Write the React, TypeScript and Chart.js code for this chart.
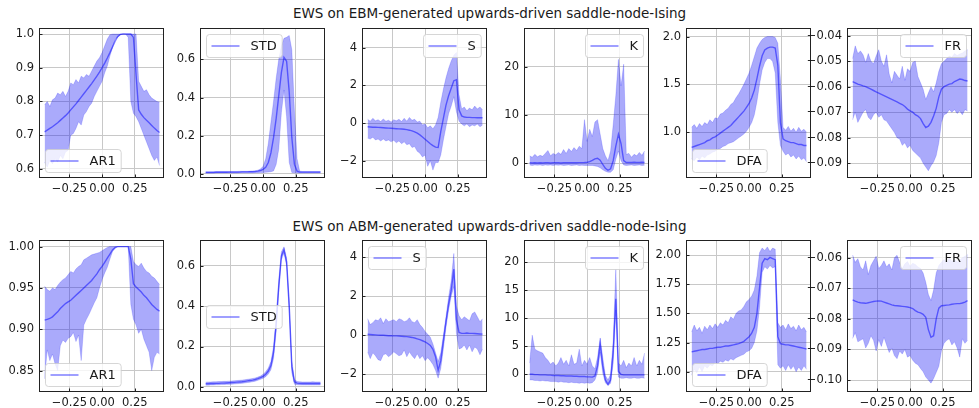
import React, { useEffect, useRef } from "react";
import { Chart, registerables } from "chart.js";
Chart.register(...registerables);

// ---------- data ----------
const xs = [-0.44,-0.42,-0.40,-0.38,-0.36,-0.34,-0.32,-0.30,-0.28,-0.26,-0.24,-0.22,-0.20,-0.18,-0.16,-0.14,-0.12,-0.10,-0.08,-0.06,-0.04,-0.02,0.00,0.02,0.04,0.06,0.08,0.10,0.12,0.14,0.16,0.18,0.20,0.22,0.24,0.26,0.28,0.30,0.32,0.34,0.36,0.38,0.40,0.42,0.44];
const xTicks = [-0.25, 0, 0.25];

const titles = ["EWS on EBM-generated upwards-driven saddle-node-Ising", "EWS on ABM-generated upwards-driven saddle-node-Ising"];

// EBM row
const ebmAr1Mean = [0.710,0.715,0.720,0.725,0.731, 0.737,0.744,0.751,0.758,0.766, 0.775,0.784,0.793,0.803,0.813, 0.823,0.833,0.843,0.853,0.864, 0.875,0.887,0.900,0.914,0.929, 0.945,0.962,0.979,0.993,0.999, 1.000,1.000,1.000,1.000,0.990, 0.880,0.775,0.762,0.752,0.744, 0.737,0.729,0.721,0.714,0.708];
const ebmAr1Upper = [0.790,0.800,0.785,0.805,0.810, 0.825,0.820,0.830,0.815,0.830, 0.855,0.850,0.865,0.855,0.875, 0.870,0.880,0.875,0.890,0.905, 0.920,0.930,0.945,0.965,0.985, 0.998,1.000,1.000,1.000,1.000, 1.000,1.000,1.000,1.000,1.000, 1.000,0.860,0.845,0.830,0.835, 0.820,0.810,0.805,0.800,0.798];
const ebmAr1Lower = [0.620,0.605,0.625,0.615,0.630, 0.620,0.640,0.630,0.650,0.655, 0.700,0.705,0.720,0.740,0.730, 0.760,0.770,0.785,0.795,0.815, 0.830,0.845,0.860,0.885,0.905, 0.935,0.960,0.985,0.990,0.998, 1.000,1.000,0.990,0.800,0.765, 0.755,0.740,0.720,0.700,0.680, 0.660,0.640,0.625,0.635,0.610];

const ebmStdMean = [0.008,0.008,0.008,0.008,0.009, 0.009,0.009,0.009,0.009,0.010, 0.010,0.010,0.010,0.010,0.011, 0.011,0.011,0.012,0.012,0.013, 0.015,0.018,0.024,0.035,0.060, 0.110,0.190,0.290,0.410,0.530, 0.610,0.590,0.430,0.190,0.050, 0.015,0.010,0.010,0.010,0.010, 0.010,0.010,0.010,0.010,0.010];
const ebmStdUpper = [0.012,0.012,0.012,0.012,0.013, 0.013,0.013,0.013,0.013,0.013, 0.013,0.013,0.013,0.014,0.014, 0.014,0.014,0.015,0.016,0.017, 0.020,0.026,0.040,0.080,0.160, 0.270,0.380,0.500,0.600,0.670, 0.710,0.715,0.725,0.650,0.330, 0.080,0.015,0.013,0.013,0.013, 0.013,0.013,0.013,0.013,0.013];
const ebmStdLower = [0.005,0.005,0.005,0.005,0.005, 0.005,0.005,0.005,0.005,0.005, 0.005,0.005,0.005,0.006,0.006, 0.006,0.006,0.006,0.006,0.007, 0.007,0.008,0.008,0.009,0.010, 0.012,0.016,0.050,0.130,0.320, 0.440,0.300,0.060,0.008,0.006, 0.005,0.005,0.005,0.005,0.005, 0.005,0.005,0.005,0.005,0.005];

const ebmSMean = [-0.20,-0.21,-0.22,-0.22,-0.23, -0.24,-0.25,-0.26,-0.27,-0.28, -0.29,-0.30,-0.31,-0.32,-0.33, -0.35,-0.38,-0.42,-0.47,-0.54, -0.63,-0.74,-0.86,-0.98,-1.10, -1.20,-1.28,-1.30,-0.45,0.25, 0.95,1.45,1.85,2.25,2.30, 0.70,0.38,0.32,0.30,0.30, 0.29,0.29,0.28,0.28,0.28];
const ebmSUpper = [0.20,0.10,0.25,0.12,0.18, 0.08,0.22,0.10,0.15,0.05, 0.18,0.12,0.20,0.08,0.25, 0.10,0.30,0.15,0.20,0.05, 0.10,-0.10,-0.05,-0.25,-0.15, -0.30,-0.10,0.30,1.10,1.80, 2.40,2.90,3.30,3.60,3.75, 1.50,0.75,0.85,0.65,0.80, 0.70,0.90,0.75,0.85,0.70];
const ebmSLower = [-0.80,-0.85,-0.75,-0.90,-0.85, -0.95,-0.85,-0.95,-0.90,-1.00, -0.92,-1.05,-0.95,-1.10,-1.00, -1.15,-1.10,-1.30,-1.25,-1.50, -1.60,-1.80,-1.70,-2.30,-2.00, -2.50,-2.10,-2.10,-1.70,-0.90, -0.20,0.50,0.90,1.40,0.60, 0.10,-0.05,-0.15,-0.05,-0.20, -0.10,-0.15,-0.05,-0.20,-0.10];

const ebmKMean = [0.05,0.00,0.05,0.00,0.05, 0.00,0.05,0.05,0.00,0.05, 0.05,0.05,0.00,0.05,0.05, 0.05,0.05,0.05,0.05,0.08, 0.08,0.10,0.15,0.30,0.55, 0.85,1.00,0.60,-0.30,-1.10, -1.50,-1.20,0.50,3.50,6.00, 4.00,0.50,0.10,0.10,0.10, 0.15,0.10,0.10,0.15,0.10];
const ebmKUpper = [1.5,1.2,1.8,1.3,1.6, 1.4,2.0,2.6,1.5,2.0, 1.7,2.2,1.8,2.8,2.0, 3.0,2.4,3.2,2.6,3.5, 3.0,9.0,4.5,7.0,5.5, 8.5,9.0,6.0,3.0,1.5, 0.5,2.5,8.0,14.0,21.5, 16.0,20.5,1.8,2.0,1.2, 1.8,1.5,2.2,1.6,2.5];
const ebmKLower = [-0.4,-0.5,-0.4,-0.45,-0.4, -0.5,-0.4,-0.45,-0.4,-0.5, -0.4,-0.45,-0.4,-0.5,-0.45, -0.4,-0.5,-0.45,-0.4,-0.5, -0.45,-0.5,-0.5,-0.5,-0.5, -0.6,-0.7,-1.0,-1.4,-1.7, -1.9,-1.9,-1.4,0.8,2.5, 0.5,-0.4,-0.5,-0.45,-0.4, -0.5,-0.45,-0.4,-0.5,-0.45];

const ebmDfaMean = [0.84,0.85,0.86,0.87,0.88, 0.89,0.91,0.92,0.94,0.95, 0.97,0.99,1.01,1.03,1.05, 1.07,1.10,1.13,1.16,1.19, 1.22,1.26,1.30,1.36,1.44, 1.56,1.69,1.80,1.86,1.88, 1.89,1.89,1.88,1.70,1.10, 0.93,0.91,0.90,0.89,0.89, 0.88,0.87,0.87,0.86,0.86];
const ebmDfaUpper = [1.05,1.08,1.04,1.09,1.06, 1.10,1.08,1.13,1.10,1.15, 1.14,1.19,1.20,1.23,1.25, 1.29,1.31,1.36,1.40,1.45, 1.50,1.56,1.62,1.70,1.79, 1.88,1.93,1.97,1.99,2.00, 2.00,2.00,1.99,1.93,1.55, 1.05,1.02,1.06,1.01,1.04, 1.00,1.05,1.01,1.03,1.00];
const ebmDfaLower = [0.72,0.70,0.74,0.71,0.75, 0.73,0.76,0.77,0.79,0.80, 0.82,0.83,0.85,0.86,0.88, 0.89,0.90,0.92,0.94,0.96, 0.98,1.01,1.05,1.10,1.18, 1.32,1.50,1.65,1.73,1.77, 1.77,1.74,1.62,1.10,0.86, 0.80,0.76,0.78,0.74,0.76, 0.72,0.75,0.71,0.73,0.69];

const ebmFrMean = [-0.058,-0.0585,-0.059,-0.0593,-0.0597, -0.060,-0.0605,-0.061,-0.0615,-0.062, -0.0625,-0.063,-0.0635,-0.064,-0.0645, -0.065,-0.0655,-0.066,-0.0665,-0.067, -0.0678,-0.0688,-0.0695,-0.070,-0.071, -0.0715,-0.0725,-0.0745,-0.076,-0.0755, -0.074,-0.0715,-0.0685,-0.064,-0.061, -0.060,-0.0595,-0.059,-0.0588,-0.058, -0.0575,-0.057,-0.0572,-0.0576,-0.0578];
const ebmFrUpper = [-0.049,-0.044,-0.047,-0.046,-0.0475, -0.0505,-0.047,-0.050,-0.051,-0.048, -0.0455,-0.050,-0.052,-0.0475,-0.055, -0.0585,-0.054,-0.0555,-0.057,-0.052, -0.0575,-0.053,-0.054,-0.0505,-0.050, -0.056,-0.0585,-0.061,-0.065,-0.0625, -0.060,-0.062,-0.0585,-0.054,-0.051, -0.050,-0.049,-0.048,-0.0485,-0.047, -0.0478,-0.0472,-0.0468,-0.046,-0.0455];
const ebmFrLower = [-0.073,-0.070,-0.074,-0.072,-0.070, -0.069,-0.072,-0.073,-0.071,-0.070, -0.072,-0.071,-0.073,-0.0735,-0.075, -0.0765,-0.078,-0.080,-0.0805,-0.083, -0.082,-0.084,-0.083,-0.085,-0.086, -0.087,-0.088,-0.090,-0.0915,-0.093, -0.091,-0.0895,-0.087,-0.082,-0.074, -0.071,-0.0705,-0.069,-0.070,-0.069, -0.0705,-0.0695,-0.071,-0.069,-0.0695];

// ABM row
const abmAr1Mean = [0.911,0.912,0.913,0.915,0.918, 0.921,0.925,0.928,0.931,0.933, 0.935,0.938,0.941,0.944,0.947, 0.950,0.953,0.956,0.959,0.963, 0.967,0.972,0.976,0.981,0.986, 0.991,0.996,0.999,1.000,1.000, 1.000,1.000,1.000,0.985,0.955, 0.951,0.948,0.945,0.941,0.938, 0.934,0.930,0.927,0.924,0.922];
const abmAr1Upper = [0.952,0.948,0.946,0.950,0.948, 0.953,0.957,0.960,0.962,0.966, 0.970,0.968,0.973,0.976,0.978, 0.984,0.986,0.988,0.990,0.991, 0.992,0.993,0.995,0.997,0.999, 1.000,1.000,1.000,1.000,1.000, 1.000,1.000,1.000,1.000,0.982, 0.978,0.976,0.980,0.974,0.970, 0.968,0.964,0.962,0.958,0.954];
const abmAr1Lower = [0.840,0.875,0.862,0.870,0.858, 0.850,0.880,0.887,0.884,0.889, 0.891,0.896,0.885,0.893,0.862, 0.905,0.912,0.918,0.925,0.932, 0.938,0.950,0.960,0.968,0.975, 0.985,0.994,0.998,1.000,1.000, 1.000,1.000,1.000,0.930,0.912, 0.905,0.895,0.900,0.888,0.880, 0.872,0.850,0.866,0.872,0.870];

const abmStdMean = [0.015,0.015,0.016,0.016,0.017, 0.017,0.018,0.018,0.019,0.020, 0.021,0.022,0.023,0.024,0.025, 0.027,0.029,0.031,0.033,0.036, 0.040,0.045,0.052,0.062,0.078, 0.105,0.170,0.310,0.500,0.650, 0.680,0.620,0.400,0.100,0.025, 0.018,0.017,0.016,0.016,0.016, 0.016,0.016,0.016,0.016,0.016];
const abmStdUpper = [0.023,0.024,0.024,0.025,0.025, 0.026,0.026,0.027,0.027,0.028, 0.029,0.030,0.031,0.032,0.033, 0.035,0.037,0.039,0.041,0.044, 0.048,0.053,0.062,0.074,0.093, 0.125,0.200,0.345,0.530,0.670, 0.695,0.640,0.435,0.130,0.037, 0.026,0.025,0.024,0.024,0.024, 0.024,0.025,0.024,0.024,0.024];
const abmStdLower = [0.008,0.008,0.009,0.009,0.010, 0.010,0.011,0.011,0.012,0.012, 0.013,0.014,0.015,0.016,0.017, 0.019,0.021,0.023,0.025,0.028, 0.032,0.037,0.042,0.050,0.063, 0.085,0.140,0.275,0.470,0.630, 0.665,0.600,0.365,0.070,0.013, 0.010,0.009,0.009,0.009,0.009, 0.009,0.009,0.009,0.009,0.009];

const abmSMean = [0.05,0.04,0.03,0.02,0.01, 0.00,0.00,-0.01,-0.02,-0.02, -0.03,-0.03,-0.04,-0.05,-0.06, -0.07,-0.09,-0.11,-0.14,-0.18, -0.22,-0.28,-0.34,-0.42,-0.52, -0.72,-1.10,-1.80,-1.30,-0.30, 0.70,1.60,2.30,3.40,0.80, 0.15,0.10,0.10,0.12,0.10, 0.10,0.09,0.08,0.07,0.06];
const abmSUpper = [0.85,0.55,0.65,0.80,0.75, 0.90,0.60,0.85,0.70,0.75, 0.80,0.70,0.85,0.80,0.70, 0.75,0.90,0.70,0.65,0.80, 0.55,0.40,0.20,0.05,-0.10, -0.45,-0.90,-1.35,-0.90,0.00, 0.95,1.95,2.80,4.20,1.50, 1.00,0.80,0.95,0.85,0.75, 1.10,1.20,0.95,0.70,0.85];
const abmSLower = [-0.85,-1.20,-0.90,-1.05,-1.25, -1.30,-1.00,-0.95,-1.10,-1.00, -0.85,-0.95,-1.05,-1.00,-0.75, -1.10,-0.85,-1.05,-1.20,-0.95, -1.20,-1.05,-1.30,-1.15,-1.30, -1.50,-1.80,-2.20,-1.70,-0.70, 0.40,1.30,2.00,2.50,0.10, -0.70,-0.65,-0.50,-0.75,-0.50, -0.85,-0.60,-0.70,-1.00,-0.70];

const abmKMean = [0.0,0.0,-0.05,-0.05,-0.1, -0.1,-0.1,-0.15,-0.15,-0.2, -0.2,-0.2,-0.25,-0.25,-0.3, -0.3,-0.3,-0.35,-0.35,-0.4, -0.4,-0.4,-0.45,-0.45,-0.5, -0.3,1.5,5.5,1.5,-1.0, -1.8,-1.0,4.0,13.5,0.5, 0.0,-0.1,-0.1,-0.1,-0.1, -0.1,-0.1,-0.1,-0.1,-0.1];
const abmKUpper = [2.0,7.0,4.5,4.2,4.0, 3.8,3.0,2.5,1.8,2.2, 1.5,2.0,3.0,1.8,2.5, 1.5,3.5,1.8,2.0,4.5, 1.5,2.5,1.8,3.0,1.5, 1.0,3.0,6.5,3.0,-0.2, -1.0,0.0,6.0,18.8,2.0, 1.5,2.5,1.2,2.0,1.5, 3.0,1.5,2.5,1.8,3.8];
const abmKLower = [-1.0,-1.0,-1.1,-1.1,-1.2, -1.1,-1.2,-1.2,-1.3,-1.3, -1.3,-1.4,-1.3,-1.4,-1.4, -1.5,-1.4,-1.5,-1.5,-1.6, -1.5,-1.6,-1.5,-1.6,-1.5, -1.0,0.3,4.0,0.2,-1.5, -2.0,-1.6,2.0,11.5,-0.5, -0.7,-0.7,-0.6,-0.7,-0.7, -0.6,-0.7,-0.7,-0.6,-0.7];

const abmDfaMean = [1.17,1.175,1.18,1.185,1.19, 1.19,1.195,1.20,1.20,1.205, 1.21,1.21,1.215,1.22,1.22, 1.225,1.23,1.235,1.24,1.25, 1.26,1.28,1.30,1.33,1.38, 1.50,1.72,1.93,1.97,1.96, 1.98,1.97,1.96,1.30,1.24, 1.235,1.23,1.23,1.225,1.22, 1.215,1.21,1.205,1.20,1.195];
const abmDfaUpper = [1.34,1.40,1.35,1.38,1.33, 1.39,1.36,1.40,1.37,1.41, 1.38,1.42,1.40,1.44,1.42, 1.47,1.45,1.50,1.52,1.53, 1.56,1.60,1.62,1.65,1.70, 1.82,2.02,2.06,2.04,2.07, 2.03,2.06,2.05,1.42,1.38, 1.40,1.36,1.41,1.37,1.39, 1.35,1.40,1.36,1.38,1.34];
const abmDfaLower = [0.97,1.02,0.99,1.04,1.00, 1.05,1.03,1.06,1.05,1.08, 1.07,1.09,1.08,1.10,1.09, 1.11,1.10,1.12,1.13,1.14, 1.15,1.17,1.18,1.20,1.25, 1.35,1.55,1.85,1.90,1.88, 1.91,1.89,1.90,1.06,1.03, 1.05,1.01,1.06,1.02,1.05, 1.00,1.04,1.01,1.05,1.02];

const abmFrMean = [-0.0738,-0.0742,-0.0745,-0.0747,-0.0748, -0.0749,-0.0747,-0.0745,-0.0743,-0.0742, -0.0741,-0.0742,-0.0745,-0.0748,-0.0751, -0.0754,-0.0756,-0.0757,-0.0758,-0.0759, -0.0760,-0.0761,-0.0763,-0.0766,-0.0773, -0.0778,-0.0780,-0.0785,-0.0795,-0.0835, -0.0860,-0.0855,-0.0800,-0.0765,-0.0757, -0.0756,-0.0755,-0.0754,-0.0752,-0.0751, -0.0750,-0.0750,-0.0748,-0.0745,-0.0740];
const abmFrUpper = [-0.0591,-0.0615,-0.0603,-0.0630,-0.0640, -0.0610,-0.0655,-0.0625,-0.0610,-0.0595, -0.0635,-0.0625,-0.0610,-0.0630,-0.0620, -0.0640,-0.0600,-0.0592,-0.0615,-0.0635, -0.0620,-0.0612,-0.0628,-0.0618,-0.0622, -0.0630,-0.0635,-0.0650,-0.0680,-0.0720, -0.0740,-0.0705,-0.0650,-0.0625,-0.0615, -0.0605,-0.0618,-0.0600,-0.0612,-0.0605, -0.0615,-0.0608,-0.0600,-0.0595,-0.0590];
const abmFrLower = [-0.0864,-0.0845,-0.0875,-0.0870,-0.0865, -0.0895,-0.0880,-0.0855,-0.0870,-0.0905, -0.0868,-0.0890,-0.0860,-0.0885,-0.0910, -0.0895,-0.0920,-0.0930,-0.0905,-0.0915, -0.0900,-0.0925,-0.0920,-0.0935,-0.0945, -0.0950,-0.0962,-0.0973,-0.0990,-0.1000, -0.1010,-0.0995,-0.0975,-0.0955,-0.0905, -0.0880,-0.0870,-0.0865,-0.0885,-0.0875, -0.0895,-0.0925,-0.0865,-0.0880,-0.0870];

// y tick labels
const ebmAr1Ticks = [0.6, 0.7, 0.8, 0.9, 1.0];
const ebmStdTicks = [0.0, 0.2, 0.4, 0.6];
const ebmSTicks = [-2, 0, 2, 4];
const ebmKTicks = [0, 10, 20];
const ebmDfaTicks = [1.0, 1.5, 2.0];
const ebmFrTicks = [-0.09, -0.08, -0.07, -0.06, -0.05, -0.04];
const abmAr1Ticks = [0.85, 0.90, 0.95, 1.00];
const abmStdTicks = [0.0, 0.2, 0.4, 0.6];
const abmSTicks = [-2, 0, 2, 4];
const abmKTicks = [0, 5, 10, 15, 20];
const abmDfaTicks = [1.0, 1.25, 1.5, 1.75, 2.0];
const abmFrTicks = [-0.10, -0.09, -0.08, -0.07, -0.06];

// ---------- layout / style ----------
const FONT = "'DejaVu Sans', sans-serif";
const TEXT = "#1a1a1a";
const LINE = "rgba(0,0,255,0.5)";
const BAND = "rgba(20,20,245,0.36)";
const EDGE = "rgba(0,0,255,0.22)";
const PAD_L = 46, PAD_T = 10, PAD_R = 8, PAD_B = 22;
const BOX_W = 125;
const COL_LEFTS = [39, 200, 362, 524, 686, 847];
const ROW_TOPS = [28, 240];
const ROW_H = [150, 152];
const X_MIN = -0.483, X_MAX = 0.474;

type PanelDef = {
  label: string; mean: number[]; upper: number[]; lower: number[];
  yMin: number; yMax: number; ticks: number[]; dec: number; loc: string;
};

const rows: PanelDef[][] = [
  [
    { label: "AR1", mean: ebmAr1Mean, upper: ebmAr1Upper, lower: ebmAr1Lower, yMin: 0.573, yMax: 1.018, ticks: ebmAr1Ticks, dec: 1, loc: "lower left" },
    { label: "STD", mean: ebmStdMean, upper: ebmStdUpper, lower: ebmStdLower, yMin: -0.021, yMax: 0.764, ticks: ebmStdTicks, dec: 1, loc: "upper left" },
    { label: "S", mean: ebmSMean, upper: ebmSUpper, lower: ebmSLower, yMin: -2.92, yMax: 5.05, ticks: ebmSTicks, dec: 0, loc: "upper right" },
    { label: "K", mean: ebmKMean, upper: ebmKUpper, lower: ebmKLower, yMin: -3.1, yMax: 28.0, ticks: ebmKTicks, dec: 0, loc: "upper right" },
    { label: "DFA", mean: ebmDfaMean, upper: ebmDfaUpper, lower: ebmDfaLower, yMin: 0.52, yMax: 2.09, ticks: ebmDfaTicks, dec: 1, loc: "lower left" },
    { label: "FR", mean: ebmFrMean, upper: ebmFrUpper, lower: ebmFrLower, yMin: -0.0958, yMax: -0.037, ticks: ebmFrTicks, dec: 2, loc: "upper right" },
  ],
  [
    { label: "AR1", mean: abmAr1Mean, upper: abmAr1Upper, lower: abmAr1Lower, yMin: 0.824, yMax: 1.008, ticks: abmAr1Ticks, dec: 2, loc: "lower left" },
    { label: "STD", mean: abmStdMean, upper: abmStdUpper, lower: abmStdLower, yMin: -0.026, yMax: 0.729, ticks: abmStdTicks, dec: 1, loc: "center left" },
    { label: "S", mean: abmSMean, upper: abmSUpper, lower: abmSLower, yMin: -2.91, yMax: 4.89, ticks: abmSTicks, dec: 0, loc: "upper left" },
    { label: "K", mean: abmKMean, upper: abmKUpper, lower: abmKLower, yMin: -3.16, yMax: 24.0, ticks: abmKTicks, dec: 0, loc: "upper right" },
    { label: "DFA", mean: abmDfaMean, upper: abmDfaUpper, lower: abmDfaLower, yMin: 0.826, yMax: 2.129, ticks: abmDfaTicks, dec: 2, loc: "lower left" },
    { label: "FR", mean: abmFrMean, upper: abmFrUpper, lower: abmFrLower, yMin: -0.1039, yMax: -0.0542, ticks: abmFrTicks, dec: 2, loc: "upper right" },
  ],
];

function fmt(v: number, dec: number) {
  const s = Math.abs(v).toFixed(dec);
  return (v < -1e-12 ? "\u2212" : "") + s;
}

const framePlugin = {
  id: "frame",
  afterDatasetsDraw(chart: any) {
    const { ctx, chartArea: a, scales } = chart;
    ctx.save();
    ctx.strokeStyle = "#222";
    ctx.lineWidth = 1;
    ctx.strokeRect(a.left + 0.5, a.top + 0.5, a.right - a.left - 1, a.bottom - a.top - 1);
    ctx.beginPath();
    for (const t of scales.x.ticks) {
      const px = Math.round(scales.x.getPixelForValue(t.value)) + 0.5;
      ctx.moveTo(px, a.bottom); ctx.lineTo(px, a.bottom - 3.5);
    }
    for (const t of scales.y.ticks) {
      const py = Math.round(scales.y.getPixelForValue(t.value)) + 0.5;
      ctx.moveTo(a.left, py); ctx.lineTo(a.left + 3.5, py);
    }
    ctx.stroke();
    ctx.restore();
  },
};

function rr(ctx: CanvasRenderingContext2D, x: number, y: number, w: number, h: number, r: number) {
  ctx.beginPath();
  ctx.moveTo(x + r, y);
  ctx.lineTo(x + w - r, y);
  ctx.arcTo(x + w, y, x + w, y + r, r);
  ctx.lineTo(x + w, y + h - r);
  ctx.arcTo(x + w, y + h, x + w - r, y + h, r);
  ctx.lineTo(x + r, y + h);
  ctx.arcTo(x, y + h, x, y + h - r, r);
  ctx.lineTo(x, y + r);
  ctx.arcTo(x, y, x + r, y, r);
  ctx.closePath();
}

const legendPlugin = {
  id: "boxLegend",
  afterDraw(chart: any, _args: any, opts: any) {
    const { ctx, chartArea: a } = chart;
    ctx.save();
    ctx.font = `13px ${FONT}`;
    const tw = ctx.measureText(opts.label).width;
    const w = 5 + 28 + 11 + tw + 5.5, h = 23;
    let x = opts.loc.includes("left") ? a.left + 6 : a.right - 6 - w;
    let y = opts.loc.startsWith("upper") ? a.top + 6 : opts.loc.startsWith("lower") ? a.bottom - 6 - h : (a.top + a.bottom) / 2 - h / 2;
    x = Math.round(x) + 0.5; y = Math.round(y) + 0.5;
    rr(ctx, x, y, w, h, 3);
    ctx.fillStyle = "rgba(255,255,255,0.8)";
    ctx.fill();
    ctx.strokeStyle = "rgba(204,204,204,0.8)";
    ctx.lineWidth = 1;
    ctx.stroke();
    const cy = y + h / 2;
    ctx.beginPath();
    ctx.moveTo(x + 5, cy); ctx.lineTo(x + 33, cy);
    ctx.strokeStyle = LINE; ctx.lineWidth = 1.5; ctx.stroke();
    ctx.fillStyle = TEXT; ctx.textBaseline = "middle"; ctx.textAlign = "left";
    ctx.fillText(opts.label, x + 44, cy + 0.5);
    ctx.restore();
  },
};

function Panel({ def, left, top, height }: { def: PanelDef; left: number; top: number; height: number }) {
  const ref = useRef<HTMLCanvasElement>(null);
  const cw = PAD_L + BOX_W + PAD_R;
  const ch = PAD_T + height + PAD_B;
  useEffect(() => {
    const pts = (arr: number[]) => xs.map((x, i) => ({ x, y: arr[i] }));
    const font = { family: FONT, size: 11.5 };
    const chart = new Chart(ref.current as HTMLCanvasElement, {
      type: "line",
      data: {
        datasets: [
          { data: pts(def.mean), borderColor: LINE, borderWidth: 1.4, pointRadius: 0, fill: false, tension: 0 },
          { data: pts(def.upper), borderColor: EDGE, borderWidth: 0.8, pointRadius: 0, fill: "+1", backgroundColor: BAND, tension: 0 },
          { data: pts(def.lower), borderColor: EDGE, borderWidth: 0.8, pointRadius: 0, fill: false, tension: 0 },
        ],
      } as any,
      options: {
        responsive: false,
        animation: false,
        devicePixelRatio: 1,
        layout: { padding: { left: 0, top: PAD_T, right: PAD_R, bottom: 0 } },
        scales: {
          x: {
            type: "linear", min: X_MIN, max: X_MAX,
            afterBuildTicks: (s: any) => { s.ticks = xTicks.map((v) => ({ value: v })); },
            afterFit: (s: any) => { s.height = PAD_B; s.paddingLeft = 0; s.paddingRight = 0; },
            grid: { color: "#c8c8c8", lineWidth: 1, drawTicks: false },
            border: { display: false },
            ticks: { callback: (v: any) => fmt(Number(v), 2), font, color: TEXT, padding: 4, maxRotation: 0, autoSkip: false },
          },
          y: {
            type: "linear", min: def.yMin, max: def.yMax,
            afterBuildTicks: (s: any) => { s.ticks = def.ticks.map((v) => ({ value: v })); },
            afterFit: (s: any) => { s.width = PAD_L; s.paddingTop = 0; s.paddingBottom = 0; },
            grid: { color: "#c8c8c8", lineWidth: 1, drawTicks: false },
            border: { display: false },
            ticks: { callback: (v: any) => fmt(Number(v), def.dec), font, color: TEXT, padding: 5, autoSkip: false },
          },
        },
        plugins: {
          legend: { display: false },
          tooltip: { enabled: false },
          boxLegend: { label: def.label, loc: def.loc },
        } as any,
      },
      plugins: [framePlugin, legendPlugin],
    });
    return () => chart.destroy();
  }, [def]);
  return (
    <canvas
      ref={ref}
      width={cw}
      height={ch}
      style={{ position: "absolute", left: left - PAD_L, top: top - PAD_T, width: cw, height: ch }}
    />
  );
}

export default function App() {
  const titleTops = [5, 218];
  return (
    <div style={{ position: "absolute", left: 0, top: 0, width: 979, height: 408, background: "#fff", overflow: "hidden" }}>
      {titles.map((t, r) => (
        <div
          key={t}
          style={{
            position: "absolute", left: 0, top: titleTops[r], width: 979, textAlign: "center",
            fontFamily: FONT, fontSize: 13.5, lineHeight: "16px", color: TEXT, whiteSpace: "nowrap",
          }}
        >
          {t}
        </div>
      ))}
      {rows.map((row, r) =>
        row.map((def, c) => (
          <Panel key={`${r}-${c}`} def={def} left={COL_LEFTS[c]} top={ROW_TOPS[r]} height={ROW_H[r]} />
        ))
      )}
    </div>
  );
}
